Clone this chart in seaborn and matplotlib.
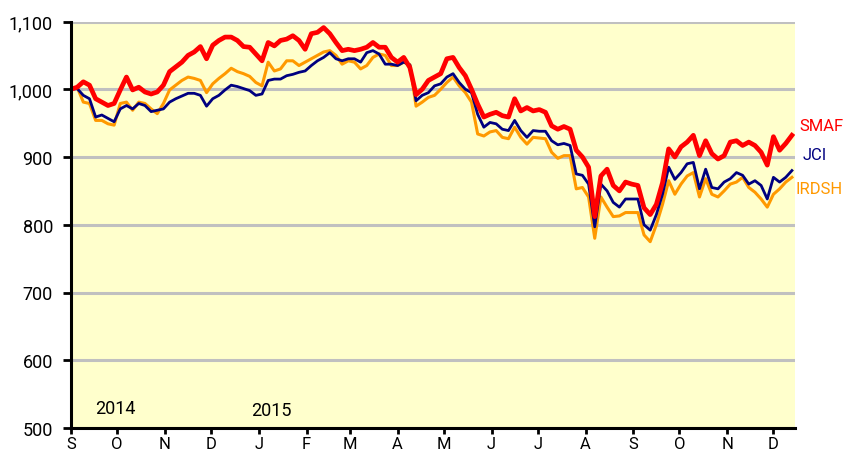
import matplotlib
matplotlib.use("Agg")
import matplotlib.pyplot as plt
import seaborn as sns
import pandas as pd
import numpy as np

# ---------------- data ----------------
start_date = "2014-09-01"
n_points = 118
step = "4D"

smaf = [1000, 1003, 1011, 1006, 986, 981, 976, 979, 999, 1018,
        999, 1003, 996, 993, 996, 1006, 1026, 1033, 1040, 1050,
        1055, 1063, 1045, 1065, 1072, 1077, 1077, 1072, 1063, 1062,
        1052, 1042, 1069, 1064, 1072, 1074, 1079, 1072, 1059, 1082,
        1084, 1091, 1082, 1069, 1057, 1059, 1057, 1059, 1062, 1069,
        1062, 1062, 1047, 1040, 1047, 1032, 992, 1000, 1013, 1018,
        1023, 1045, 1047, 1032, 1020, 1000, 978, 959, 963, 966,
        961, 959, 986, 968, 973, 968, 970, 966, 946, 941,
        945, 941, 910, 900, 885, 812, 872, 882, 858, 850,
        863, 860, 858, 825, 815, 830, 862, 912, 900, 915,
        922, 932, 902, 924, 905, 897, 902, 922, 924, 917,
        922, 917, 907, 888, 930, 910, 920, 932]

jci = [1000, 1001, 991, 986, 959, 962, 957, 952, 971, 976,
       971, 979, 976, 967, 969, 971, 981, 986, 990, 994,
       994, 991, 975, 986, 991, 999, 1006, 1004, 1001, 998,
       991, 993, 1013, 1015, 1015, 1020, 1022, 1025, 1027, 1035,
       1042, 1047, 1054, 1045, 1042, 1045, 1045, 1040, 1054, 1057,
       1052, 1037, 1037, 1035, 1040, 1036, 983, 991, 995, 1005,
       1008, 1018, 1023, 1010, 1000, 995, 963, 944, 951, 949,
       941, 939, 954, 939, 929, 939, 938, 938, 924, 918,
       920, 917, 875, 873, 860, 797, 860, 850, 833, 826,
       838, 838, 838, 800, 792, 815, 845, 885, 867, 877,
       890, 892, 853, 882, 855, 853, 863, 868, 877, 873,
       860, 865, 858, 838, 870, 863, 870, 880]

irdsh = [1000, 1003, 981, 979, 954, 954, 949, 947, 979, 981,
         969, 981, 979, 971, 964, 979, 999, 1006, 1013, 1018,
         1016, 1013, 995, 1008, 1016, 1023, 1031, 1026, 1023, 1019,
         1010, 1005, 1040, 1027, 1030, 1042, 1042, 1035, 1040, 1045,
         1050, 1055, 1057, 1050, 1037, 1042, 1040, 1030, 1035, 1047,
         1052, 1050, 1035, 1035, 1040, 1036, 975, 981, 988, 991,
         1000, 1010, 1018, 1005, 995, 981, 934, 931, 937, 939,
         929, 927, 944, 929, 919, 929, 928, 927, 907, 898,
         902, 902, 853, 855, 841, 780, 841, 826, 812, 813,
         818, 818, 818, 785, 775, 800, 830, 865, 845, 860,
         872, 877, 841, 868, 845, 841, 850, 860, 863, 870,
         855, 848, 838, 826, 845, 853, 863, 870]

series_names = ["SMAF", "JCI", "IRDSH"]
month_letters = ["S", "O", "N", "D", "J", "F", "M", "A",
                 "M", "J", "J", "A", "S", "O", "N", "D"]
y_ticks = [500, 600, 700, 800, 900, 1000, 1100]
year_labels = ["2014", "2015"]

# ---------------- build frame ----------------
dates = pd.date_range(start_date, periods=n_points, freq=step)
df = pd.DataFrame({
    "date": np.concatenate([dates, dates, dates]),
    "value": smaf + jci + irdsh,
    "series": ["SMAF"] * len(smaf) + ["JCI"] * len(jci) + ["IRDSH"] * len(irdsh),
})

plt.rcParams["font.family"] = ["Roboto", "DejaVu Sans"]

colors = {"SMAF": "#FF0000", "JCI": "#000080", "IRDSH": "#FF9900"}
widths = {"SMAF": 3.4, "JCI": 2.0, "IRDSH": 2.2}

fig = plt.figure(figsize=(8.44, 4.52), dpi=100)
ax = fig.add_axes([71 / 844, 1 - 429 / 452, 724 / 844, (429 - 22.5) / 452])
ax.set_facecolor("#FFFFCC")

sns.lineplot(data=df, x="date", y="value", hue="series", size="series",
             hue_order=["IRDSH", "JCI", "SMAF"], palette=colors,
             sizes=widths, legend=False, ax=ax)

ax.set_xlim(pd.Timestamp("2014-09-01"), pd.Timestamp("2015-12-15"))
ax.set_ylim(500, 1100)
ax.set_yticks(y_ticks)
ax.set_yticklabels([f"{v:,}" for v in y_ticks])
month_starts = pd.date_range("2014-09-01", "2015-12-01", freq="MS")
ax.set_xticks(month_starts)
ax.set_xticklabels(month_letters)
ax.set_xlabel("")
ax.set_ylabel("")

ax.yaxis.grid(True, color="#C0C0C0", lw=2.2)
ax.xaxis.grid(False)
ax.set_axisbelow(True)

for s in ["top", "right"]:
    ax.spines[s].set_visible(False)
for s in ["left", "bottom"]:
    ax.spines[s].set_color("black")
    ax.spines[s].set_linewidth(2.2)

ax.tick_params(axis="y", length=6, width=2, pad=7, labelsize=13, colors="black")
ax.tick_params(axis="x", length=4, width=2, pad=1.5, labelsize=12, colors="black")

ax.text(pd.Timestamp("2014-09-30"), 529, year_labels[0], ha="center", va="center", fontsize=13)
ax.text(pd.Timestamp("2015-01-09"), 526, year_labels[1], ha="center", va="center", fontsize=13)

label_pos = {"SMAF": (843, 127, "right"), "JCI": (803, 156, "left"), "IRDSH": (843, 190, "right")}
for name in series_names:
    px, py, ha = label_pos[name]
    fig.text(px / 844, 1 - py / 452, name,
             color=colors[name], ha=ha, va="center", fontsize=12)

fig.savefig("out.png", dpi=100)
